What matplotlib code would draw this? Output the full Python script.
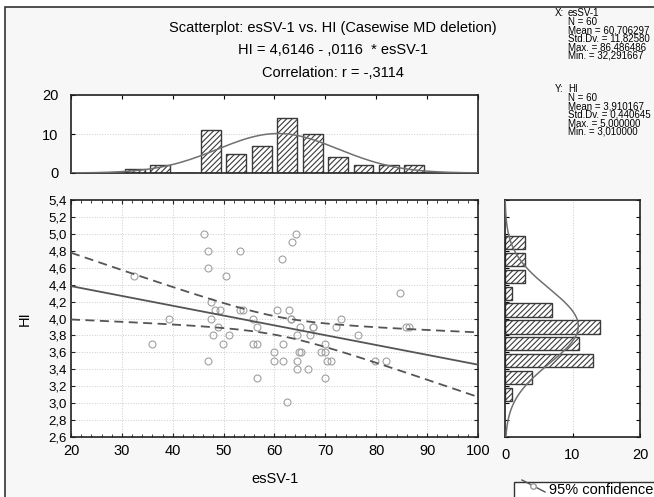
import numpy as np
import matplotlib.pyplot as plt
from matplotlib.patches import Rectangle
from matplotlib.lines import Line2D
from matplotlib.ticker import FuncFormatter, MultipleLocator

plt.rcParams['font.family'] = ['Liberation Sans', 'DejaVu Sans']
plt.rcParams['hatch.linewidth'] = 0.8

# esSV-1 (x) and HI (y), one entry per case
essv = [46.1, 46.9, 53.2, 46.9, 32.3, 50.4, 47.5, 48.4, 49.2, 53.2,
        53.8, 60.4, 39.2, 47.5, 55.7, 48.8, 56.6, 48.0, 51.1, 35.9,
        49.9, 55.7, 56.6, 46.9, 59.9, 59.9, 56.6, 64.2, 63.4, 61.5,
        84.7, 62.9, 63.2, 73.0, 65.0, 67.5, 72.0, 85.9, 86.5, 64.5,
        67.0, 76.4, 61.7, 69.9, 64.8, 65.2, 69.2, 69.9, 61.7, 64.5,
        70.3, 71.1, 79.7, 81.9, 64.5, 66.5, 69.9, 62.5, 63.2, 67.5]
hi = [5.0, 4.8, 4.8, 4.6, 4.5, 4.5, 4.2, 4.1, 4.1, 4.1,
      4.1, 4.1, 4.0, 4.0, 4.0, 3.9, 3.9, 3.8, 3.8, 3.7,
      3.7, 3.7, 3.7, 3.5, 3.6, 3.5, 3.3, 5.0, 4.9, 4.7,
      4.3, 4.1, 4.0, 4.0, 3.9, 3.9, 3.9, 3.9, 3.9, 3.8,
      3.8, 3.8, 3.7, 3.7, 3.6, 3.6, 3.6, 3.6, 3.5, 3.5,
      3.5, 3.5, 3.5, 3.5, 3.4, 3.4, 3.3, 3.01, 4.0, 3.9]

# histogram bars as drawn (bin centres and counts)
x_centres = [32.5, 37.5, 42.5, 47.5, 52.5, 57.5, 62.5, 67.5, 72.5, 77.5, 82.5, 87.5]
x_counts = [1, 2, 0, 11, 5, 7, 14, 10, 4, 2, 2, 2]
y_centres = [3.1, 3.3, 3.5, 3.7, 3.9, 4.1, 4.3, 4.5, 4.7, 4.9]
y_counts = [1, 4, 13, 11, 14, 7, 1, 3, 3, 3]

# summary statistics printed on the chart
n = 60
x_mean, x_sd = 60.706297, 11.82580
y_mean, y_sd = 3.910167, 0.440645
a, b, r = 4.6146, -0.0116, -0.3114

stats_x = ['esSV-1', 'N = 60', 'Mean = 60,706297', 'Std.Dv. = 11,82580',
           'Max. = 86,486486', 'Min. = 32,291667']
stats_y = ['HI', 'N = 60', 'Mean = 3,910167', 'Std.Dv. = 0,440645',
           'Max. = 5,000000', 'Min. = 3,010000']

W, H = 654, 497
fig = plt.figure(figsize=(W / 100, H / 100), dpi=100)
fig.patch.set_facecolor('white')

# grey panel with a dark frame on top/left
fig.add_artist(Rectangle((5 / W, -0.1), 1.2, 1 + 0.1 - 7 / H, transform=fig.transFigure,
                         facecolor='#f7f7f7', edgecolor='#333333', lw=1.2, zorder=-10))


def box(l, t, r_, b_):
    return [l / W, 1 - b_ / H, (r_ - l) / W, (b_ - t) / H]


ax = fig.add_axes(box(71, 200, 478, 437))
axt = fig.add_axes(box(71, 95, 478, 173))
axr = fig.add_axes(box(505, 200, 640, 437))

line_col = '#555555'
comma = FuncFormatter(lambda v, p: f'{v:.1f}'.replace('.', ','))

# scatter
ax.plot(essv, hi, 'o', mfc='none', mec='#a0a0a0', ms=5, mew=0.8, zorder=3)
xx = np.linspace(20, 100, 200)
yy = a + b * xx
s = y_sd * np.sqrt(1 - r ** 2) * np.sqrt((n - 1) / (n - 2))
sxx = (n - 1) * x_sd ** 2
half = 2.0017 * s * np.sqrt(1 / n + (xx - x_mean) ** 2 / sxx)
ax.plot(xx, yy, color=line_col, lw=1.3, zorder=4)
ax.plot(xx, yy + half, color=line_col, lw=1.3, ls=(0, (5, 3)), zorder=4)
ax.plot(xx, yy - half, color=line_col, lw=1.3, ls=(0, (5, 3)), zorder=4)
ax.set_xlim(20, 100)
ax.set_ylim(2.6, 5.4)
ax.xaxis.set_major_locator(MultipleLocator(10))
ax.xaxis.set_minor_locator(MultipleLocator(2))
ax.yaxis.set_major_locator(MultipleLocator(0.2))
ax.yaxis.set_major_formatter(comma)
ax.grid(True, color='#cccccc', ls=':', lw=0.7)
ax.tick_params(which='both', direction='in', top=True, right=True, color='#222222')
ax.tick_params(which='major', length=3, pad=5)
ax.tick_params(which='minor', length=2)
ax.tick_params(axis='x', labelsize=10.5)
ax.tick_params(axis='y', labelsize=9.5, pad=3)
ax.set_xlabel('esSV-1', fontsize=10.5, labelpad=10)
ax.set_ylabel('HI', fontsize=10.5, labelpad=12)

# top histogram of esSV-1
axt.bar(x_centres, x_counts, width=3.9, facecolor='white', edgecolor='#3a3a3a',
        hatch='//////', lw=1.0, zorder=2)
axt.plot(xx, n * 5 / (x_sd * np.sqrt(2 * np.pi)) * np.exp(-0.5 * ((xx - x_mean) / x_sd) ** 2),
         color='#707070', lw=1.1, zorder=3)
axt.set_xlim(20, 100)
axt.set_ylim(0, 20)
axt.set_yticks([0, 10, 20])
axt.xaxis.set_major_locator(MultipleLocator(10))
axt.set_xticklabels([])
axt.grid(True, axis='y', color='#cccccc', ls=':', lw=0.7)
axt.tick_params(which='both', direction='in', top=True, bottom=False, length=3,
                labelsize=10.5, pad=9)

# right histogram of HI
axr.barh(y_centres, y_counts, height=0.155, facecolor='white', edgecolor='#3a3a3a',
         hatch='//////', lw=1.0, zorder=2)
hh = np.linspace(2.6, 5.4, 200)
axr.plot(n * 0.2 / (y_sd * np.sqrt(2 * np.pi)) * np.exp(-0.5 * ((hh - y_mean) / y_sd) ** 2), hh,
         color='#707070', lw=1.1, zorder=3)
axr.set_xlim(0, 20)
axr.set_ylim(2.6, 5.4)
axr.set_xticks([0, 10, 20])
axr.yaxis.set_major_locator(MultipleLocator(0.2))
axr.set_yticklabels([])
axr.grid(True, axis='x', color='#cccccc', ls=':', lw=0.7)
axr.tick_params(which='both', direction='in', right=True, length=3, labelsize=10.5, pad=8)

for a_ in (ax, axt, axr):
    for sp in a_.spines.values():
        sp.set_color('#222222')
        sp.set_linewidth(1.2)

# titles
tx = 333 / W
fig.text(tx, 1 - 28 / H, 'Scatterplot: esSV-1 vs. HI (Casewise MD deletion)',
         ha='center', va='center', fontsize=10.5)
fig.text(tx, 1 - 50 / H, 'HI = 4,6146 - ,0116  * esSV-1', ha='center', va='center', fontsize=10.5)
fig.text(tx, 1 - 73 / H, 'Correlation: r = -,3114', ha='center', va='center', fontsize=10.5)

# summary block: one multi-line text per variable
for top, head, lines in ((8, 'X:', stats_x), (84, 'Y:', stats_y)):
    fig.text(555 / W, 1 - top / H, head, ha='left', va='top', fontsize=7)
    fig.text(568 / W, 1 - top / H, '\n'.join(lines), ha='left', va='top',
             fontsize=7, linespacing=0.82)

# legend box, cut by the figure edge
fig.add_artist(Rectangle((514 / W, -0.05), 0.3, 0.05 + 1 - 482 / H, transform=fig.transFigure,
                         facecolor='white', edgecolor='#333333', lw=1.0))
fig.add_artist(Line2D([522 / W, 545 / W], [1 - 480 / H, 1 - 492 / H], transform=fig.transFigure,
                      color='#555555', lw=1.0))
fig.add_artist(Line2D([533 / W], [1 - 486 / H], transform=fig.transFigure, marker='o',
                      mfc='white', mec='#999999', ms=4, lw=0))
fig.text(549 / W, 1 - 490 / H, '95% confidence', ha='left', va='center', fontsize=10.5)

fig.savefig('out.png', dpi=100)
